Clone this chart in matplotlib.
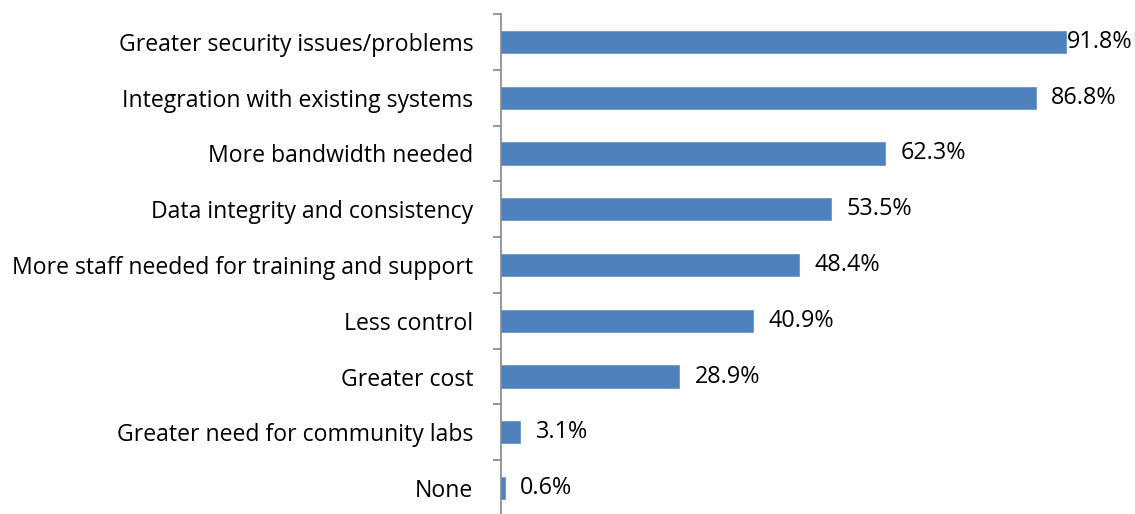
import matplotlib.pyplot as plt

categories = [
    "Greater security issues/problems",
    "Integration with existing systems",
    "More bandwidth needed",
    "Data integrity and consistency",
    "More staff needed for training and support",
    "Less control",
    "Greater cost",
    "Greater need for community labs",
    "None",
]
values = [91.8, 86.8, 62.3, 53.5, 48.4, 40.9, 28.9, 3.1, 0.6]

plt.rcParams['font.family'] = ['Open Sans', 'DejaVu Sans']

fig = plt.figure(figsize=(11.35, 5.14), dpi=100)
ax = fig.add_axes([501 / 1135, -2 / 514, 616 / 1135, 502 / 514])

n = len(categories)
ypos = list(range(n))
ax.barh(ypos, values, height=0.4, color='#4F81BD', edgecolor='#6E97C9', linewidth=0.6)
ax.set_ylim(n - 0.5, -0.5)
ax.set_xlim(0, 100)

for y, v in zip(ypos, values):
    # the largest bar's label sits right against the bar end
    off = 0.05 if v > 90 else 2.5
    ax.text(v + off, y, f"{v:.1f}%", va='center', ha='left', fontsize=16.8, color='#000000')

ax.set_yticks(ypos)
ax.set_yticklabels(categories, fontsize=16.6)
ax.set_yticks([i - 0.5 for i in range(n + 1)], minor=True)
ax.tick_params(axis='y', which='major', length=0, pad=20)
ax.tick_params(axis='y', which='minor', length=6, width=1.2, color='#868686', direction='out')
ax.set_xticks([])
for s in ['top', 'right', 'bottom']:
    ax.spines[s].set_visible(False)
ax.spines['left'].set_color('#868686')
ax.spines['left'].set_linewidth(1.2)

fig.savefig('out.png', dpi=100)
